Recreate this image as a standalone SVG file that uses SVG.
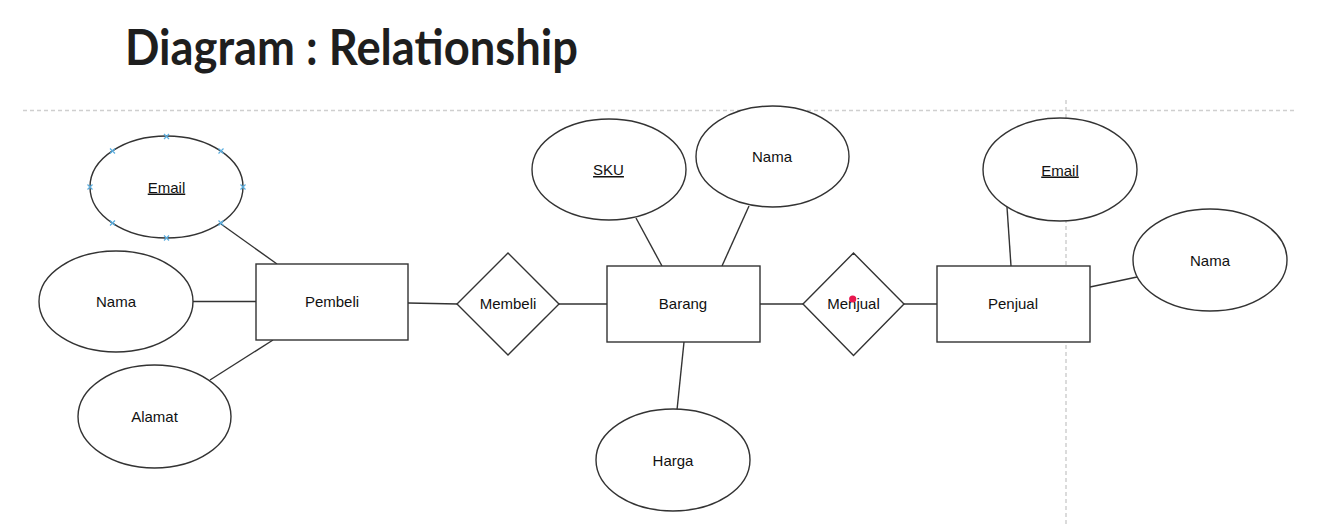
<svg xmlns="http://www.w3.org/2000/svg" width="1317" height="525" viewBox="0 0 1317 525">
<style>
.bg{fill:#ffffff}
.guide{stroke:#cfcfcf;stroke-width:1.5;stroke-dasharray:4 3;fill:none}
.shape{fill:#ffffff;stroke:#333333;stroke-width:1.4}
.conn{stroke:#333333;stroke-width:1.4;fill:none}
.lbl{font-family:"Liberation Sans",Arial,sans-serif;font-size:15px;fill:#111111;text-anchor:middle}
.key{text-decoration:underline}
.title{font-family:Lato,"Liberation Sans",sans-serif;font-weight:700;font-size:49px;fill:#1e1e1e}
.mark{stroke:#5aaee0;stroke-width:1.2;fill:none}
</style>
<rect class="bg" x="0" y="0" width="1317" height="525"/>
<text class="title" x="125" y="65" textLength="453" lengthAdjust="spacingAndGlyphs">Diagram : Relationship</text>
<g id="guides">
<line class="guide" x1="23" y1="110.5" x2="1297" y2="110.5"/>
<line class="guide" x1="1066" y1="100" x2="1066" y2="525"/>
</g>
<g id="connectors">
<line class="conn" x1="221" y1="224" x2="277" y2="264"/>
<line class="conn" x1="193" y1="301.5" x2="256" y2="301.5"/>
<line class="conn" x1="273" y1="340" x2="210" y2="380"/>
<line class="conn" x1="408" y1="303" x2="458" y2="304"/>
<line class="conn" x1="559" y1="304" x2="607" y2="304"/>
<line class="conn" x1="636" y1="218" x2="662" y2="266"/>
<line class="conn" x1="749" y1="206" x2="722" y2="266"/>
<line class="conn" x1="684" y1="342" x2="677" y2="410"/>
<line class="conn" x1="760" y1="304" x2="803" y2="304"/>
<line class="conn" x1="904" y1="304" x2="937" y2="304"/>
<line class="conn" x1="1007" y1="207" x2="1011" y2="266"/>
<line class="conn" x1="1090" y1="287" x2="1137" y2="277"/>
</g>
<g id="pembeli-email">
<ellipse class="shape" cx="166.5" cy="187" rx="76.5" ry="51"/>
<text class="lbl key" x="166.5" y="192.5">Email</text>
<path class="mark" d="M164 134l5 5M169 134l-5 5M164 235.5l5 5M169 235.5l-5 5M87.5 184.5l5 5M92.5 184.5l-5 5M240.5 184.5l5 5M245.5 184.5l-5 5M110 148.5l5 5M115 148.5l-5 5M218.5 148.5l5 5M223.5 148.5l-5 5M110 220.5l5 5M115 220.5l-5 5M218.5 220.5l5 5M223.5 220.5l-5 5"/>
</g>
<g id="pembeli-nama">
<ellipse class="shape" cx="116" cy="301.5" rx="77" ry="50.5"/>
<text class="lbl" x="116" y="307">Nama</text>
</g>
<g id="pembeli-alamat">
<ellipse class="shape" cx="154.5" cy="416.5" rx="76.5" ry="51.5"/>
<text class="lbl" x="154.5" y="421.5">Alamat</text>
</g>
<g id="pembeli">
<rect class="shape" x="256" y="264" width="152" height="76"/>
<text class="lbl" x="332" y="307">Pembeli</text>
</g>
<g id="membeli">
<polygon class="shape" points="508,253 559,304 508,355 457,304"/>
<text class="lbl" x="508" y="309">Membeli</text>
</g>
<g id="barang-sku">
<ellipse class="shape" cx="609" cy="169.5" rx="77" ry="50.5"/>
<text class="lbl key" x="608.5" y="175">SKU</text>
</g>
<g id="barang-nama">
<ellipse class="shape" cx="772.5" cy="156.5" rx="76.5" ry="50.5"/>
<text class="lbl" x="772" y="162">Nama</text>
</g>
<g id="barang">
<rect class="shape" x="607" y="266" width="153" height="76"/>
<text class="lbl" x="683" y="309">Barang</text>
</g>
<g id="barang-harga">
<ellipse class="shape" cx="673" cy="460" rx="77" ry="51"/>
<text class="lbl" x="673" y="466">Harga</text>
</g>
<g id="menjual">
<polygon class="shape" points="853.5,253 904,304 853.5,355.5 803,304"/>
<text class="lbl" x="853.5" y="309">Menjual</text>
<circle cx="852.7" cy="299" r="3.6" fill="#e8174f"/>
</g>
<g id="penjual-email">
<ellipse class="shape" cx="1060" cy="169.5" rx="77" ry="51.5"/>
<text class="lbl key" x="1060" y="175.5">Email</text>
</g>
<g id="penjual-nama">
<ellipse class="shape" cx="1210" cy="260" rx="77" ry="51"/>
<text class="lbl" x="1210" y="265.5">Nama</text>
</g>
<g id="penjual">
<rect class="shape" x="937" y="266" width="153" height="76"/>
<text class="lbl" x="1013" y="309">Penjual</text>
</g>
</svg>
